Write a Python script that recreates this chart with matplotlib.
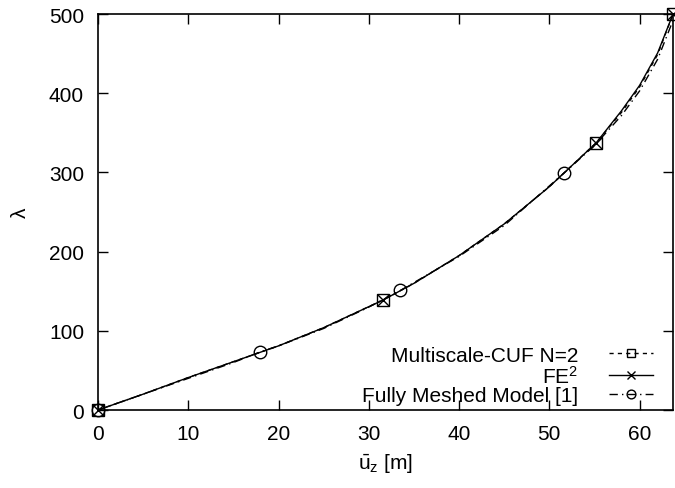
import matplotlib.pyplot as plt
import numpy as np

plt.rcParams['font.family'] = ['Liberation Sans', 'DejaVu Sans']
plt.rcParams['mathtext.fontset'] = 'custom'
plt.rcParams['mathtext.rm'] = 'Liberation Sans'
plt.rcParams['mathtext.it'] = 'Liberation Sans'

# values
# Multiscale-CUF N=2 (markers at 0, 31.6, 55.2, 63.7)
cuf_u = [0, 5, 10, 15, 20, 25, 31.6, 35, 40, 45, 50, 55.2, 58, 60, 62, 63.7]
cuf_lam = [0, 20, 41, 61, 81, 104, 139, 160, 195, 235, 282, 337.6, 376, 408, 449, 500]
cuf_marks = [0, 6, 11, 15]

# FE^2
fe_u = [0, 5, 10, 15, 20, 25, 31.6, 35, 40, 45, 50, 55.2, 58, 60, 62, 63.7]
fe_lam = [0, 20, 41, 61, 81, 104, 139, 160, 195, 235, 282, 337.6, 378, 410, 451, 500]
fe_marks = [0, 6, 11, 15]

# Fully meshed model [1]
fm_u = [0, 5, 10, 15, 18, 20, 25, 30, 33.5, 40, 45, 51.6, 55, 58, 60, 62, 63.7]
fm_lam = [0, 20, 40, 60, 73.5, 81, 103, 130, 151, 194, 233, 299, 334, 372, 403, 443, 492]
fm_marks = [0, 4, 8, 11]

fig = plt.figure(figsize=(6.75, 4.89), dpi=100)
ax = fig.add_axes([0.1452, 0.1595, 0.8518, 0.8095])

ax.plot(cuf_u, cuf_lam, color='black', lw=1.0, ls=(0, (3, 3)),
        marker='s', markevery=cuf_marks, ms=9, mfc='none', mec='black', mew=1.0,
        label='Multiscale-CUF N=2', clip_on=False)
ax.plot(fe_u, fe_lam, color='black', lw=1.0, ls='-',
        marker='x', markevery=fe_marks, ms=9, mec='black', mew=1.0,
        label='FE$^2$', clip_on=False)
ax.plot(fm_u, fm_lam, color='black', lw=1.0, ls=(0, (6, 3, 1, 3)),
        marker='o', markevery=fm_marks, ms=9, mfc='none', mec='black', mew=1.0,
        label='Fully Meshed Model [1]', clip_on=False)

ax.set_xlim(0, 63.7)
ax.set_ylim(0, 500)
ax.set_xticks(np.arange(0, 61, 10))
ax.set_yticks(np.arange(0, 501, 100))
ax.tick_params(direction='in', length=7, width=1, top=True, right=True,
               labelsize=15, pad=10)
for s in ax.spines.values():
    s.set_linewidth(1.2)

ax.set_xlabel(r'$\bar{\mathrm{u}}_{\mathrm{z}}$ [m]', fontsize=15, labelpad=6)
ax.set_ylabel('λ', fontsize=15, labelpad=14)

leg = ax.legend(loc='lower right', bbox_to_anchor=(0.987, -0.02), frameon=False,
                markerfirst=False, fontsize=15, handlelength=2.1, markerscale=0.7,
                handletextpad=1.5, labelspacing=0.0, borderaxespad=0.2)

fig.savefig('out.png', dpi=100)
